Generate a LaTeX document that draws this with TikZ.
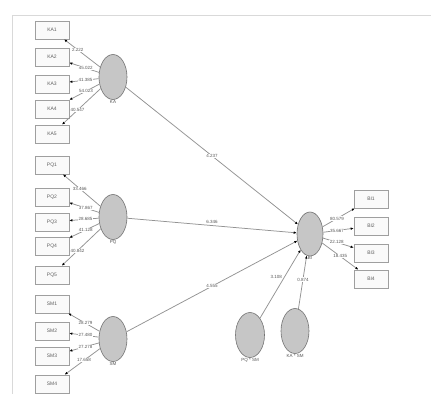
\documentclass[tikz,border=0pt]{standalone}
\usepackage{fontspec}
\setmainfont{Liberation Sans}
\usetikzlibrary{shapes.geometric,arrows.meta}
\begin{document}
\begin{tikzpicture}[x=1pt,y=-1pt,
 ind/.style={draw=gray!75, line width=0.7pt, fill=gray!4, minimum width=34pt, minimum height=18pt, inner sep=0pt, font=\fontsize{5}{6}\selectfont, text=gray!75!black},
 lat/.style={ellipse, draw=gray!90!black, line width=0.6pt, fill=gray!45, minimum width=28pt, minimum height=45pt, inner sep=0pt},
 lbl/.style={font=\fontsize{4.5}{5}\selectfont, text=gray!70!black, inner sep=1pt},
 cn/.style={draw=gray!85, line width=0.75pt, -{Latex[length=3pt,width=2.6pt,black]}},
 val/.style={font=\fontsize{4.5}{5}\selectfont, text=gray!70!black, inner sep=0.5pt, fill=white}]
\useasboundingbox (0,0) rectangle (431,394);
\fill[white] (0,0) rectangle (431,394);
\draw[gray!30, line width=0.8pt] (431,15) -- (12,15) -- (12,394);
% indicators
\node[ind] (ka1) at (52,30) {KA1};
\node[ind] (ka2) at (52,57) {KA2};
\node[ind] (ka3) at (52,84) {KA3};
\node[ind] (ka4) at (52,109) {KA4};
\node[ind] (ka5) at (52,134) {KA5};
\node[ind] (pq1) at (52,165) {PQ1};
\node[ind] (pq2) at (52,197) {PQ2};
\node[ind] (pq3) at (52,222) {PQ3};
\node[ind] (pq4) at (52,246) {PQ4};
\node[ind] (pq5) at (52,275) {PQ5};
\node[ind] (sm1) at (52,304) {SM1};
\node[ind] (sm2) at (52,331) {SM2};
\node[ind] (sm3) at (52,356) {SM3};
\node[ind] (sm4) at (52,384) {SM4};
\node[ind] (bi1) at (371,199) {BI1};
\node[ind] (bi2) at (371,226) {BI2};
\node[ind] (bi3) at (371,253) {BI3};
\node[ind] (bi4) at (371,279) {BI4};
% latent variables
\node[lat] (ka) at (113,77) {};
\node[lbl, anchor=north] (kal) at ([yshift=1pt]ka.south) {KA};
\node[lat] (pq) at (113,217) {};
\node[lbl, anchor=north] (pql) at ([yshift=1pt]pq.south) {PQ};
\node[lat] (sm) at (113,339) {};
\node[lbl, anchor=north] (sml) at ([yshift=1pt]sm.south) {SM};
\node[lat, minimum width=26pt, minimum height=44pt] (bi) at (310,234) {};
\node[lbl, anchor=north] (bil) at ([yshift=1pt]bi.south) {BI};
\node[lat, minimum width=29pt] (pqsm) at (250,335) {};
\node[lbl, anchor=north] (pqsml) at ([yshift=1pt]pqsm.south) {PQ * SM};
\node[lat] (kasm) at (295,331) {};
\node[lbl, anchor=north] (kasml) at ([yshift=1pt]kasm.south) {KA * SM};
% outer loadings
\draw[cn] (ka) -- node[val, pos=0.62] {2.222} (ka1);
\draw[cn] (ka) -- node[val, pos=0.45] {45.022} (ka2);
\draw[cn] (ka) -- node[val, pos=0.45] {41.385} (ka3);
\draw[cn] (ka) -- node[val, pos=0.45] {54.023} (ka4);
\draw[cn] (ka) -- node[val, pos=0.6] {40.547} (ka5);
\draw[cn] (pq) -- node[val, pos=0.55] {33.466} (pq1);
\draw[cn] (pq) -- node[val, pos=0.45] {37.867} (pq2);
\draw[cn] (pq) -- node[val, pos=0.45] {28.685} (pq3);
\draw[cn] (pq) -- node[val, pos=0.45] {41.128} (pq4);
\draw[cn] (pq) -- node[val, pos=0.6] {40.842} (pq5);
\draw[cn] (sm) -- node[val, pos=0.45] {28.279} (sm1);
\draw[cn] (sm) -- node[val, pos=0.45] {27.480} (sm2);
\draw[cn] (sm) -- node[val, pos=0.45] {27.278} (sm3);
\draw[cn] (sm) -- node[val, pos=0.45] {17.658} (sm4);
\draw[cn] (bi) -- node[val, pos=0.45] {80.579} (bi1);
\draw[cn] (bi) -- node[val, pos=0.45] {35.667} (bi2);
\draw[cn] (bi) -- node[val, pos=0.45] {22.128} (bi3);
\draw[cn] (bi) -- node[val, pos=0.5] {18.435} (bi4);
% structural paths
\draw[cn] (ka) -- node[val, pos=0.5] {4.237} (bi);
\draw[cn] (pq) -- node[lbl, pos=0.5, above=1pt] {6.346} (bi);
\draw[cn] (sm) -- node[val, pos=0.5] {4.555} (bi);
\draw[cn] (pqsm) -- node[lbl, pos=0.6, left=1pt] {3.108} (bi);
\draw[cn] (kasm) -- node[val, pos=0.55] {0.874} (bi);
\end{tikzpicture}
\end{document}
